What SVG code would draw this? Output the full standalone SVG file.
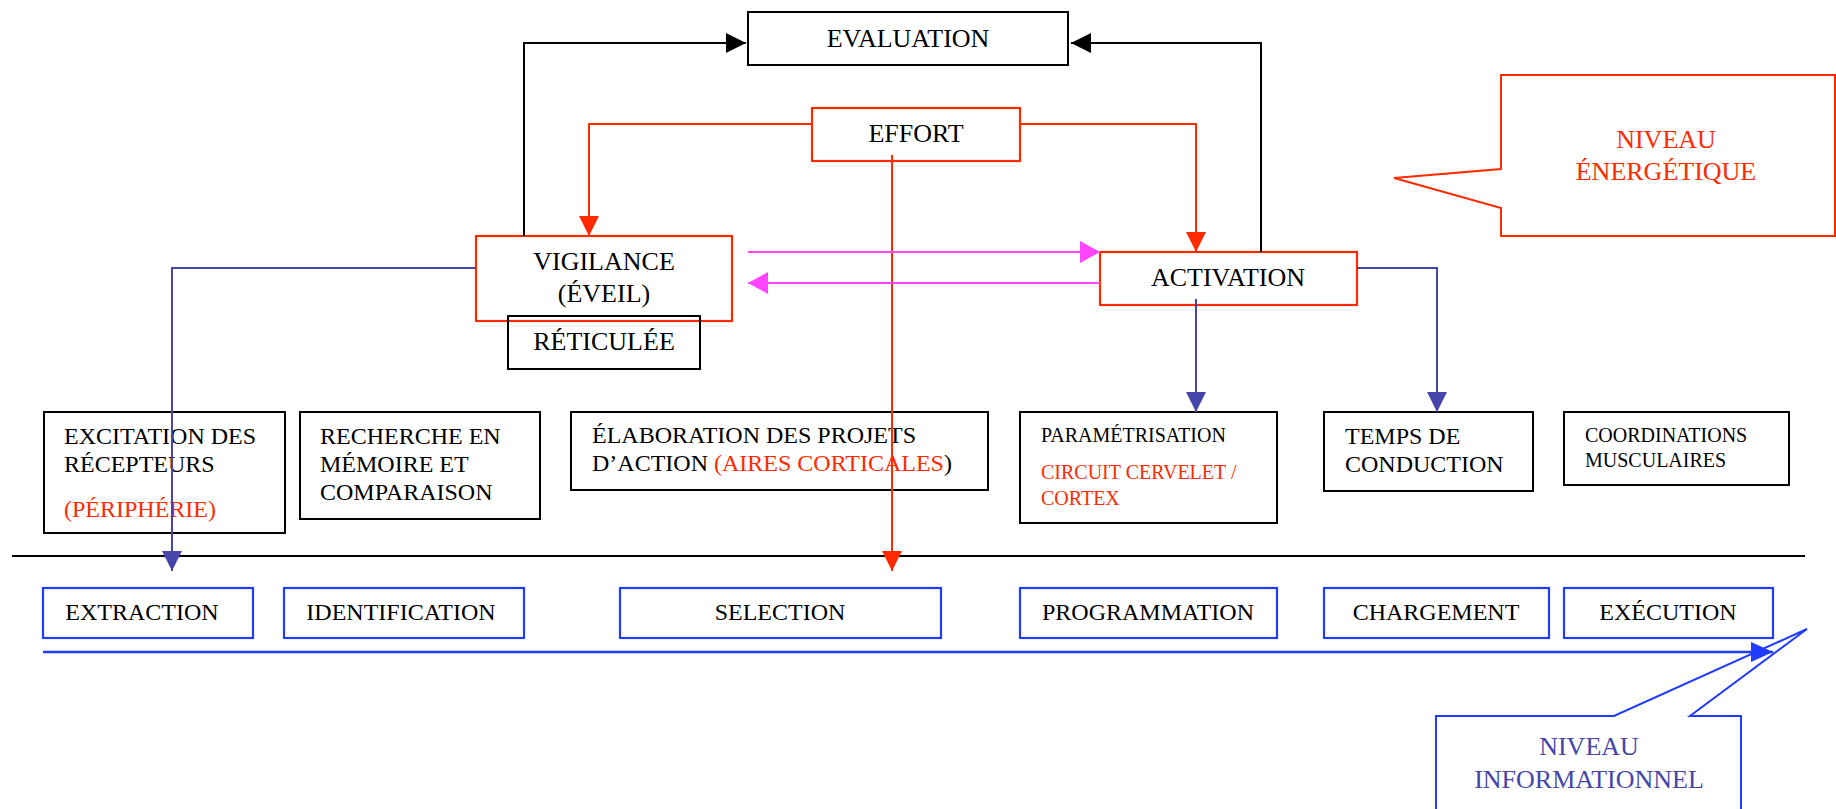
<svg xmlns="http://www.w3.org/2000/svg" width="1836" height="809" viewBox="0 0 1836 809">
  <style>
    text { font-family: "Liberation Serif", "Times New Roman", serif; fill: #000; }
    .t26 { font-size: 26px; }
    .t24 { font-size: 24px; }
    .t20 { font-size: 20px; }
    .mid { text-anchor: middle; }
    .red { fill: #ff2a00; }
    .info { fill: #4646aa; }
    .box-k { fill: none; stroke: #000; stroke-width: 2; }
    .box-r { fill: none; stroke: #ff2a00; stroke-width: 2.2; }
    .box-b { fill: none; stroke: #1f3cff; stroke-width: 2.2; }
    .ln { fill: none; stroke-width: 2; }
    .k { stroke: #000; }
    .r { stroke: #ff2a00; }
    .b { stroke: #4646aa; }
    .m { stroke: #ff44ff; }
    .bb { stroke: #1f3cff; stroke-width: 2.5; }
  </style>
  <defs>
    <marker id="ah-k" markerUnits="userSpaceOnUse" markerWidth="20" markerHeight="20" refX="20" refY="10" orient="auto">
      <path d="M0,0 L20,10 L0,20 z" fill="#000"/>
    </marker>
    <marker id="ah-r" markerUnits="userSpaceOnUse" markerWidth="20" markerHeight="20" refX="20" refY="10" orient="auto">
      <path d="M0,0 L20,10 L0,20 z" fill="#ff2a00"/>
    </marker>
    <marker id="ah-b" markerUnits="userSpaceOnUse" markerWidth="20" markerHeight="20" refX="20" refY="10" orient="auto">
      <path d="M0,0 L20,10 L0,20 z" fill="#4646aa"/>
    </marker>
    <marker id="ah-m" markerUnits="userSpaceOnUse" markerWidth="20" markerHeight="22" refX="20" refY="11" orient="auto">
      <path d="M0,0 L20,11 L0,22 z" fill="#ff44ff"/>
    </marker>
    <marker id="ah-bb" markerUnits="userSpaceOnUse" markerWidth="22" markerHeight="20" refX="22" refY="10" orient="auto">
      <path d="M0,0 L22,10 L0,20 z" fill="#1f3cff"/>
    </marker>
  </defs>

  <rect width="1836" height="809" fill="#fff"/>

  <!-- separator between levels -->
  <line class="ln k" x1="12" y1="556" x2="1805" y2="556"/>

  <!-- energetic level -->
  <g id="evaluation">
    <rect class="box-k" x="748" y="12" width="320" height="53"/>
    <text class="t26 mid" x="908" y="47">EVALUATION</text>
  </g>
  <g id="effort">
    <rect class="box-r" x="812" y="108" width="208" height="53"/>
    <text class="t26 mid" x="916" y="142">EFFORT</text>
  </g>
  <g id="vigilance">
    <rect class="box-r" x="476" y="236" width="256" height="85"/>
    <text class="t26 mid" x="604" y="270">VIGILANCE</text>
    <text class="t26 mid" x="604" y="302">(ÉVEIL)</text>
  </g>
  <g id="reticulee">
    <rect class="box-k" x="508" y="316" width="192" height="53"/>
    <text class="t26 mid" x="604" y="350">RÉTICULÉE</text>
  </g>
  <g id="activation">
    <rect class="box-r" x="1100" y="252" width="257" height="53"/>
    <text class="t26 mid" x="1228" y="286">ACTIVATION</text>
  </g>
  <g id="niveau-energetique">
    <path d="M1501,75 L1835,75 L1835,236 L1501,236 L1501,208 L1394,178 L1501,169 Z" fill="none" stroke="#ff2a00" stroke-width="2"/>
    <text class="t26 mid red" x="1666" y="148">NIVEAU</text>
    <text class="t26 mid red" x="1666" y="180">ÉNERGÉTIQUE</text>
  </g>

  <!-- structures -->
  <g id="excitation">
    <rect class="box-k" x="44" y="412" width="241" height="121"/>
    <text class="t24" x="64" y="444">EXCITATION DES</text>
    <text class="t24" x="64" y="472">RÉCEPTEURS</text>
    <text class="t24 red" x="64" y="517">(PÉRIPHÉRIE)</text>
  </g>
  <g id="recherche">
    <rect class="box-k" x="300" y="412" width="240" height="107"/>
    <text class="t24" x="320" y="444">RECHERCHE EN</text>
    <text class="t24" x="320" y="472">MÉMOIRE ET</text>
    <text class="t24" x="320" y="500">COMPARAISON</text>
  </g>
  <g id="elaboration">
    <rect class="box-k" x="571" y="412" width="417" height="78"/>
    <text class="t24" x="592" y="443">ÉLABORATION DES PROJETS</text>
    <text class="t24" x="592" y="471">D’ACTION <tspan class="red">(AIRES CORTICALES</tspan>)</text>
  </g>
  <g id="parametrisation">
    <rect class="box-k" x="1020" y="412" width="257" height="111"/>
    <text class="t20" x="1041" y="442">PARAMÉTRISATION</text>
    <text class="t20 red" x="1041" y="479">CIRCUIT CERVELET /</text>
    <text class="t20 red" x="1041" y="505">CORTEX</text>
  </g>
  <g id="temps">
    <rect class="box-k" x="1324" y="412" width="209" height="79"/>
    <text class="t24" x="1345" y="444">TEMPS DE</text>
    <text class="t24" x="1345" y="472">CONDUCTION</text>
  </g>
  <g id="coordinations">
    <rect class="box-k" x="1564" y="412" width="225" height="73"/>
    <text class="t20" x="1585" y="442">COORDINATIONS</text>
    <text class="t20" x="1585" y="467">MUSCULAIRES</text>
  </g>

  <!-- informational level -->
  <g id="extraction">
    <rect class="box-b" x="43" y="588" width="210" height="50"/>
    <text class="t24 mid" x="142" y="620">EXTRACTION</text>
  </g>
  <g id="identification">
    <rect class="box-b" x="284" y="588" width="240" height="50"/>
    <text class="t24 mid" x="401" y="620">IDENTIFICATION</text>
  </g>
  <g id="selection">
    <rect class="box-b" x="620" y="588" width="321" height="50"/>
    <text class="t24 mid" x="780" y="620">SELECTION</text>
  </g>
  <g id="programmation">
    <rect class="box-b" x="1020" y="588" width="257" height="50"/>
    <text class="t24 mid" x="1148" y="620">PROGRAMMATION</text>
  </g>
  <g id="chargement">
    <rect class="box-b" x="1324" y="588" width="225" height="50"/>
    <text class="t24 mid" x="1436" y="620">CHARGEMENT</text>
  </g>
  <g id="execution">
    <rect class="box-b" x="1564" y="588" width="209" height="50"/>
    <text class="t24 mid" x="1668" y="620">EXÉCUTION</text>
  </g>
  <g id="niveau-informationnel">
    <path d="M1436,812 L1436,716 L1614,716 L1807,629 L1690,716 L1741,716 L1741,812" fill="none" stroke="#1f3cff" stroke-width="2"/>
    <text class="t26 mid info" x="1589" y="755">NIVEAU</text>
    <text class="t26 mid info" x="1589" y="788">INFORMATIONNEL</text>
  </g>

  <!-- connectors, drawn over the boxes -->
  <g id="connectors">
    <polyline class="ln k" points="524,236 524,43 746,43" marker-end="url(#ah-k)"/>
    <polyline class="ln k" points="1261,252 1261,43 1071,43" marker-end="url(#ah-k)"/>
    <polyline class="ln r" points="812,124 589,124 589,236" marker-end="url(#ah-r)"/>
    <polyline class="ln r" points="1020,124 1196,124 1196,252" marker-end="url(#ah-r)"/>
    <line class="ln r" x1="892" y1="155" x2="892" y2="571" marker-end="url(#ah-r)"/>
    <line class="ln m" x1="748" y1="252" x2="1100" y2="252" marker-end="url(#ah-m)"/>
    <line class="ln m" x1="1100" y1="283" x2="748" y2="283" marker-end="url(#ah-m)"/>
    <polyline class="ln b" points="476,268 172,268 172,571" marker-end="url(#ah-b)"/>
    <line class="ln b" x1="1196" y1="299" x2="1196" y2="412" marker-end="url(#ah-b)"/>
    <polyline class="ln b" points="1357,268 1437,268 1437,412" marker-end="url(#ah-b)"/>
    <line class="ln bb" x1="43" y1="652" x2="1773" y2="652" marker-end="url(#ah-bb)"/>
  </g>
</svg>
